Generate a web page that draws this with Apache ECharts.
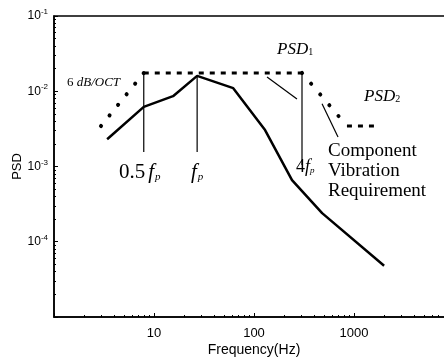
<!DOCTYPE html>
<html lang="en">
<head>
<meta charset="UTF-8">
<title>PSD</title>
<script src="https://cdn.jsdelivr.net/npm/echarts@6/dist/echarts.min.js"></script>
<style>
  html, body { margin: 0; padding: 0; background: #fff; }
  #main { width: 444px; height: 361px; }
</style>
</head>
<body>
<div id="main"></div>
<script>
// component response (solid)
var compFreq = [3.4, 7.9, 15.5, 27, 62, 129, 240, 480, 2000];
var compPsd = [2.3e-3, 6.2e-3, 8.6e-3, 1.6e-2, 1.1e-2, 3.05e-3, 6.6e-4, 2.4e-4, 4.8e-5];

// specification PSD: 6 dB/oct rise, flat PSD1, roll-off, flat PSD2
var riseFreq = [2.95, 7.9];
var risePsd = [3.45e-3, 1.75e-2];
var flat1Freq = [7.9, 302];
var flat1Psd = [1.75e-2, 1.75e-2];
var fallFreq = [302, 850];
var fallPsd = [1.75e-2, 3.45e-3];
var flat2Freq = [850, 1700];
var flat2Psd = [3.45e-3, 3.45e-3];

// marker lines at 0.5fp, fp, 4fp
var halfFpFreq = [7.9, 7.9];
var halfFpPsd = [1.75e-2, 1.56e-3];
var fpFreq = [27, 27];
var fpPsd = [1.6e-2, 1.56e-3];
var fourFpFreq = [302, 302];
var fourFpPsd = [1.75e-2, 1.05e-3];

// leader lines
var psd1PtrFreq = [135, 269];
var psd1PtrPsd = [1.55e-2, 7.9e-3];
var compPtrFreq = [479, 692];
var compPtrPsd = [6.8e-3, 2.47e-3];

var xTicks = [10, 100, 1000];

function pairs(xs, ys) {
    return xs.map(function (x, i) { return [x, ys[i]]; });
}

function plain(name, xs, ys, width) {
    return {
        name: name, type: 'line', data: pairs(xs, ys), symbol: 'none',
        silent: true, animation: false,
        lineStyle: { color: '#000', width: width }
    };
}

var serif = '"Liberation Serif", "DejaVu Serif", serif';
var sans = '"Liberation Sans", Arial, sans-serif';

var myChart = echarts.init(document.getElementById('main'));
var option = {
    backgroundColor: '#fff',
    animation: false,
    grid: {
        left: 54, top: 16, width: 400, height: 301,
        outerBoundsMode: 'none', containLabel: false,
        show: true, borderColor: '#000', borderWidth: 1.5
    },
    xAxis: {
        type: 'log', logBase: 10, min: 1, max: 10000,
        name: 'Frequency(Hz)', nameLocation: 'middle', nameGap: 26, nameMoveOverlap: false,
        nameTextStyle: { fontFamily: sans, fontSize: 14, color: '#000' },
        axisLine: { lineStyle: { color: '#000', width: 1.5 } },
        axisTick: { inside: true, length: 4, lineStyle: { color: '#000' } },
        minorTick: { show: true, splitNumber: 9, length: 2, lineStyle: { color: '#000' } },
        splitLine: { show: false },
        axisLabel: {
            margin: 10, fontFamily: sans, fontSize: 13, color: '#000',
            formatter: function (v) {
                for (var i = 0; i < xTicks.length; i++) {
                    if (Math.abs(v - xTicks[i]) < 1e-6 * xTicks[i]) return String(xTicks[i]);
                }
                return '';
            }
        }
    },
    yAxis: {
        type: 'log', logBase: 10, min: 1e-5, max: 1e-1,
        name: 'PSD', nameLocation: 'middle', nameGap: 30, nameMoveOverlap: false,
        nameTextStyle: { fontFamily: sans, fontSize: 13, color: '#000' },
        axisLine: { lineStyle: { color: '#000', width: 1.5 } },
        axisTick: { inside: true, length: 4, lineStyle: { color: '#000' } },
        minorTick: { show: true, splitNumber: 9, length: 2, lineStyle: { color: '#000' } },
        splitLine: { show: false },
        axisLabel: {
            margin: 6, color: '#000', showMinLabel: false,
            formatter: function (v) {
                var e = Math.round(Math.log10(v));
                return '{a|10}{b|' + e + '}';
            },
            rich: {
                a: { fontFamily: sans, fontSize: 12, color: '#000' },
                b: { fontFamily: sans, fontSize: 8, color: '#000', padding: [0, 0, 8, 0] }
            }
        }
    },
    series: [
        plain('component', compFreq, compPsd, 2.5),
        {
            name: 'rise', type: 'line', data: pairs(riseFreq, risePsd), symbol: 'none', silent: true,
            lineStyle: { color: '#000', width: 4, type: [0.1, 13.5], cap: 'round' }
        },
        {
            name: 'psd1', type: 'line', data: pairs(flat1Freq, flat1Psd), symbol: 'none', silent: true,
            lineStyle: { color: '#000', width: 3, type: [5, 6] }
        },
        {
            name: 'fall', type: 'line', data: pairs(fallFreq, fallPsd), symbol: 'none', silent: true,
            lineStyle: { color: '#000', width: 4, type: [0.1, 14], cap: 'round' }
        },
        {
            name: 'psd2', type: 'line', data: pairs(flat2Freq, flat2Psd), symbol: 'none', silent: true,
            lineStyle: { color: '#000', width: 3, type: [5, 6] }
        },
        plain('halfFp', halfFpFreq, halfFpPsd, 1.2),
        plain('fp', fpFreq, fpPsd, 1.2),
        plain('fourFp', fourFpFreq, fourFpPsd, 1.2),
        plain('psd1Ptr', psd1PtrFreq, psd1PtrPsd, 1.2),
        plain('compPtr', compPtrFreq, compPtrPsd, 1.2)
    ],
    graphic: [
        {
            type: 'text', left: 67, top: 76,
            style: {
                text: '6 {i|dB/OCT}', font: '13px ' + serif, fill: '#000',
                rich: { i: { fontFamily: serif, fontSize: 13, fontStyle: 'italic', fill: '#000' } }
            }
        },
        {
            type: 'text', left: 277, top: 41,
            style: {
                text: '{m|PSD}{s|1}', fill: '#000',
                rich: {
                    m: { fontFamily: serif, fontSize: 17, fontStyle: 'italic' },
                    s: { fontFamily: serif, fontSize: 10, padding: [6, 0, 0, 0] }
                }
            }
        },
        {
            type: 'text', left: 364, top: 88,
            style: {
                text: '{m|PSD}{s|2}', fill: '#000',
                rich: {
                    m: { fontFamily: serif, fontSize: 17, fontStyle: 'italic' },
                    s: { fontFamily: serif, fontSize: 10, padding: [6, 0, 0, 0] }
                }
            }
        },
        {
            type: 'text', left: 119, top: 162,
            style: {
                text: '{n|0.5}{f|f}{s|p}', fill: '#000',
                rich: {
                    n: { fontFamily: serif, fontSize: 21 },
                    f: { fontFamily: serif, fontSize: 21, fontStyle: 'italic', padding: [0, 0, 0, 3] },
                    s: { fontFamily: serif, fontSize: 11, fontStyle: 'italic', padding: [9, 0, 0, 1] }
                }
            }
        },
        {
            type: 'text', left: 191, top: 162,
            style: {
                text: '{f|f}{s|p}', fill: '#000',
                rich: {
                    f: { fontFamily: serif, fontSize: 21, fontStyle: 'italic' },
                    s: { fontFamily: serif, fontSize: 11, fontStyle: 'italic', padding: [9, 0, 0, 1] }
                }
            }
        },
        {
            type: 'text', left: 296, top: 158,
            style: {
                text: '{n|4}{f|f}{s|p}', fill: '#000',
                rich: {
                    n: { fontFamily: serif, fontSize: 18 },
                    f: { fontFamily: serif, fontSize: 18, fontStyle: 'italic' },
                    s: { fontFamily: serif, fontSize: 9, fontStyle: 'italic', padding: [8, 0, 0, 0] }
                }
            }
        },
        {
            type: 'text', left: 328, top: 141,
            style: {
                text: 'Component\nVibration\nRequirement',
                font: '19px ' + serif, fill: '#000', lineHeight: 20
            }
        }
    ]
};
myChart.setOption(option);
</script>
</body>
</html>
